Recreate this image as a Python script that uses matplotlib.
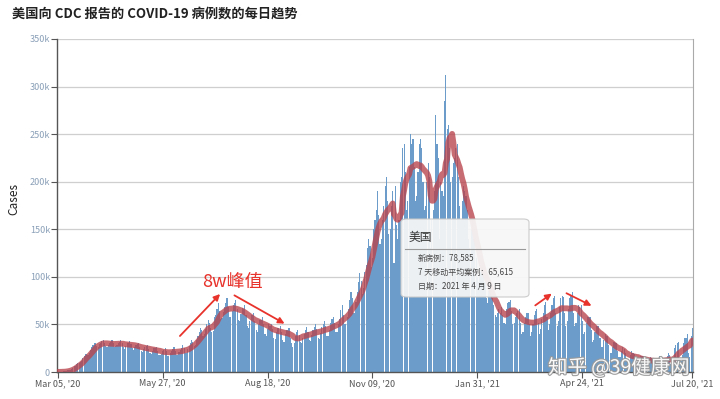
import matplotlib
matplotlib.use("Agg")
import matplotlib.pyplot as plt
import matplotlib.patheffects as pe
from matplotlib.patches import FancyBboxPatch
import numpy as np
import pandas as pd

plt.rcParams['font.family'] = ['Noto Sans CJK SC', 'DejaVu Sans']

# ---------------- data (daily new cases, thousands), Mar 05 2020 .. Jul 20 2021 ----------------
start_date = "2020-03-05"
end_date = "2021-07-20"
daily_cases_k = [
    0.1, 0.1, 0.2, 0.3, 0.4, 0.6, 0.9,        # Mar 05
    1.0, 1.6, 2.0, 2.5, 3.5, 4.5, 6.0,        # Mar 12
    6, 8, 9, 9, 11, 12, 15,                   # Mar 19
    17, 19, 19, 18, 20, 23, 26,               # Mar 26
    28, 31, 30, 27, 26, 29, 31,               # Apr 02
    33, 34, 31, 27, 26, 28, 30,               # Apr 09
    32, 34, 30, 26, 27, 28, 31,               # Apr 16
    32, 34, 30, 26, 24, 27, 30,               # Apr 23
    31, 33, 29, 25, 23, 26, 28,               # Apr 30
    29, 30, 26, 22, 21, 24, 26,               # May 07
    27, 28, 24, 20, 19, 22, 25,               # May 14
    25, 26, 22, 18, 18, 19, 22,               # May 21
    23, 25, 22, 17, 17, 20, 22,               # May 28
    24, 26, 22, 18, 18, 21, 23,               # Jun 04
    25, 28, 25, 20, 20, 24, 27,               # Jun 11
    31, 34, 32, 27, 28, 34, 38,               # Jun 18
    42, 46, 44, 38, 40, 45, 50,               # Jun 25
    55, 52, 46, 42, 43, 58, 60,               # Jul 02
    66, 72, 64, 56, 57, 63, 68,               # Jul 09
    73, 78, 68, 58, 58, 64, 70,               # Jul 16
    72, 76, 66, 55, 54, 61, 67,               # Jul 23
    66, 70, 60, 48, 46, 54, 60,               # Jul 30
    60, 62, 54, 44, 42, 50, 55,               # Aug 06
    55, 58, 50, 40, 38, 45, 50,               # Aug 13
    48, 50, 45, 36, 35, 42, 46,               # Aug 20
    46, 48, 42, 34, 32, 40, 44,               # Aug 27
    44, 46, 36, 30, 26, 30, 38,               # Sep 03
    42, 44, 39, 32, 31, 36, 40,               # Sep 10
    44, 47, 42, 34, 33, 39, 44,               # Sep 17
    47, 50, 45, 36, 35, 41, 47,               # Sep 24
    50, 54, 48, 38, 38, 44, 51,               # Oct 01
    56, 58, 52, 42, 42, 50, 56,               # Oct 08
    65, 70, 60, 50, 50, 58, 66,               # Oct 15
    76, 84, 78, 62, 62, 74, 84,               # Oct 22
    95, 104, 96, 82, 88, 105, 112,            # Oct 29
    130, 140, 132, 110, 120, 150, 160,        # Nov 05
    170, 190, 165, 135, 140, 160, 175,        # Nov 12
    195, 205, 180, 145, 150, 175, 190,        # Nov 19
    115, 195, 155, 140, 160, 200, 205,        # Nov 26
    235, 240, 210, 170, 180, 215, 250,        # Dec 03
    240, 245, 215, 180, 185, 210, 240,        # Dec 10
    245, 235, 200, 170, 175, 200, 220,        # Dec 17
    205, 130, 160, 170, 190, 270, 240,        # Dec 24
    225, 140, 200, 190, 185, 285, 312,        # Dec 31
    255, 260, 235, 200, 205, 220, 225,        # Jan 07
    235, 240, 205, 175, 160, 180, 195,        # Jan 14
    190, 185, 170, 140, 130, 150, 160,        # Jan 21
    140, 140, 120, 100, 95, 105, 110,         # Jan 28
    110, 105, 95, 78, 72, 85, 88,             # Feb 04
    80, 78, 70, 60, 58, 62, 66,               # Feb 11
    62, 68, 60, 52, 50, 66, 72,               # Feb 18
    74, 76, 64, 50, 52, 58, 62,               # Feb 25
    64, 66, 52, 40, 42, 52, 58,               # Mar 04
    62, 62, 50, 38, 42, 50, 60,               # Mar 11
    64, 66, 52, 40, 45, 56, 62,               # Mar 18
    70, 74, 58, 44, 50, 62, 70,               # Mar 25
    78, 80, 62, 48, 54, 68, 78,               # Apr 01
    80, 78.585, 62, 48, 54, 66, 78,           # Apr 08
    80, 84, 62, 48, 52, 62, 70,               # Apr 15
    68, 70, 54, 40, 42, 52, 58,               # Apr 22
    58, 58, 44, 32, 34, 42, 48,               # Apr 29
    48, 48, 36, 26, 26, 34, 40,               # May 06
    38, 38, 28, 20, 20, 26, 32,               # May 13
    30, 30, 22, 16, 16, 22, 26,               # May 20
    24, 20, 14, 12, 10, 18, 22,               # May 27
    20, 19, 12, 9, 10, 14, 17,                # Jun 03
    17, 17, 10, 8, 8, 12, 15,                 # Jun 10
    16, 15, 9, 7, 8, 12, 15,                  # Jun 17
    17, 16, 9, 7, 9, 13, 17,                  # Jun 24
    20, 18, 8, 6, 7, 25, 28,                  # Jul 01
    30, 32, 14, 12, 18, 30, 36,               # Jul 08
    36, 40, 20, 16, 38, 46,                   # Jul 15
]
tick_dates = ["2020-03-05", "2020-05-27", "2020-08-18", "2020-11-09",
              "2021-01-31", "2021-04-24", "2021-07-20"]
tick_labels = ["Mar 05, '20", "May 27, '20", "Aug 18, '20", "Nov 09, '20",
               "Jan 31, '21", "Apr 24, '21", "Jul 20, '21"]
y_ticks_k = [0, 50, 100, 150, 200, 250, 300, 350]
y_tick_labels = ["0", "50k", "100k", "150k", "200k", "250k", "300k", "350k"]

title = "美国向 CDC 报告的 COVID-19 病例数的每日趋势"
tooltip_title = "美国"
tooltip_lines = ["新病例：78,585", "7 天移动平均案例：65,615", "日期：2021 年 4 月 9 日"]
annotation_text = "8w峰值"
watermark = "知乎 @39健康网"

# ---------------- build ----------------
dates = pd.date_range(start_date, end_date, freq="D")
cases = pd.Series(np.array(daily_cases_k[:len(dates)]) * 1000.0, index=dates)
avg7 = cases.rolling(7, min_periods=1).mean()
day_idx = np.arange(len(dates))
t0 = pd.Timestamp(start_date)
tick_pos = [(pd.Timestamp(d) - t0).days for d in tick_dates]

fig = plt.figure(figsize=(7.2, 3.99), dpi=100)
ax = fig.add_axes([57 / 720, 1 - 372 / 399, (693 - 57) / 720, (372 - 39) / 399])

ax.bar(day_idx, cases.values, width=0.9, color="#6c9dca", linewidth=0, zorder=2)
ax.plot(day_idx, avg7.values, color="#b8434c", lw=4.2, alpha=0.78, zorder=3,
        solid_capstyle="round", solid_joinstyle="round")

ax.set_xlim(-0.5, len(dates) - 0.5)
ax.set_ylim(0, 350000)
ax.set_yticks([v * 1000 for v in y_ticks_k])
ax.set_yticklabels(y_tick_labels, color="#8aa0b8", fontsize=6.5)
ax.set_xticks(tick_pos)
ax.set_xticklabels(tick_labels, color="#555555", fontsize=6.5)
ax.tick_params(axis="y", length=4, width=0.8, color="#555555", pad=1)
ax.tick_params(axis="x", length=4, width=0.8, color="#555555", pad=1)
ax.grid(axis="y", color="#cfcfcf", lw=0.9, zorder=0)
ax.set_axisbelow(True)
for s in ["left", "bottom"]:
    ax.spines[s].set_color("#555555")
    ax.spines[s].set_linewidth(1.0)
ax.spines["top"].set_visible(False)
ax.spines["right"].set_color("#aaaaaa")
ax.spines["right"].set_linewidth(0.8)
ax.set_ylabel("Cases", fontsize=8.5, color="#222222")
ax.yaxis.set_label_coords(-0.058, 0.52)

fig.text(12 / 720, 1 - 14 / 399, title, fontsize=9.5, fontweight="bold",
         color="#222222", va="center", ha="left")

# annotations (figure pixel coords)
def fx(x):
    return x / 720
def fy(y):
    return 1 - y / 399

arrow_kw = dict(arrowstyle="-|>", color="#e8332c", lw=1.3, mutation_scale=9)
for (x0, y0, x1, y1) in [(178, 338, 222, 292), (232, 294, 287, 325),
                         (533, 307, 554, 292), (564, 292, 594, 307)]:
    fig.add_artist(matplotlib.patches.FancyArrowPatch(
        (fx(x0), fy(y0)), (fx(x1), fy(y1)), transform=fig.transFigure, **arrow_kw))
fig.text(fx(232), fy(282), annotation_text, fontsize=13, color="#e8332c",
         ha="center", va="center")

# tooltip
box = FancyBboxPatch((fx(401), fy(297)), fx(529) - fx(401), fy(219) - fy(297),
                     boxstyle="round,pad=0,rounding_size=0.008",
                     transform=fig.transFigure, facecolor="#f7f7f7", alpha=0.93,
                     edgecolor="#c8c8c8", lw=0.8, zorder=10)
fig.add_artist(box)
fig.text(fx(409), fy(237), tooltip_title, fontsize=8.5, color="#333333",
         va="center", ha="left", zorder=11)
fig.add_artist(matplotlib.lines.Line2D([fx(405), fx(525)], [fy(249), fy(249)],
                                       transform=fig.transFigure, color="#999999",
                                       lw=0.8, zorder=11))
for i, line in enumerate(tooltip_lines):
    fig.text(fx(418), fy(258 + 14 * i), line, fontsize=5.8, color="#444444",
             va="center", ha="left", zorder=11)

# watermark
fig.text(fx(548), fy(368), watermark, fontsize=14, color="white", alpha=0.95,
         va="center", ha="left", zorder=12,
         path_effects=[pe.withStroke(linewidth=1.6, foreground="#9a9a9a")])

fig.savefig("out.png", dpi=100)
